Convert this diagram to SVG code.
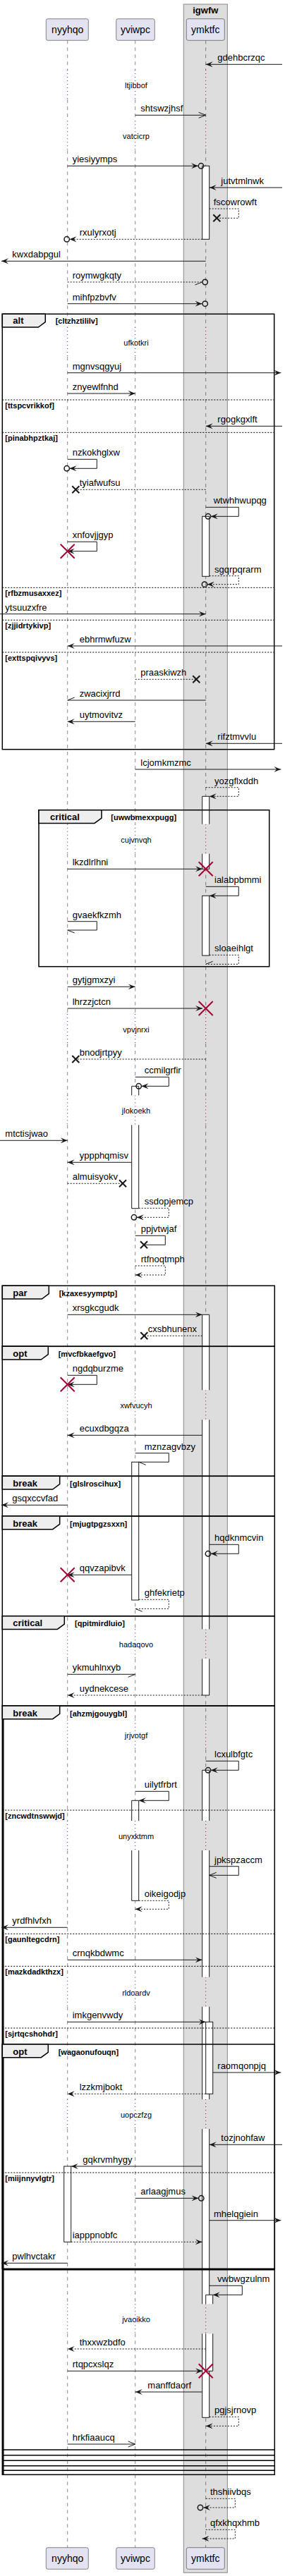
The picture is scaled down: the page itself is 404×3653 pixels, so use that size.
<svg xmlns="http://www.w3.org/2000/svg" width="404" height="3653" viewBox="0 0 404 3653">
<style>
.t{font-family:"Liberation Sans",Arial,sans-serif;font-size:13px;fill:#000}
.p{font-size:14px;text-anchor:middle}
.d{font-size:11px;text-anchor:middle}
.g{font-size:11px;font-weight:bold}
.h{font-size:13px;font-weight:bold}
.m{stroke:#181818;stroke-width:1;fill:none}
.dash{stroke-dasharray:2,2}
.life{stroke:#181818;stroke-width:0.5;stroke-dasharray:5,5;fill:none}
.dly{stroke:#A80036;stroke-width:1;stroke-dasharray:1,4;fill:none}
.actf{fill:#fff;stroke:none}
.acts{fill:none;stroke:#181818;stroke-width:1}
.act{fill:#fff;stroke:#181818;stroke-width:1}
.fr{fill:none;stroke:#000;stroke-width:1.5}
.tab{fill:#EEEEEE;stroke:#000;stroke-width:1.5}
.sep{stroke:#000;stroke-width:1;stroke-dasharray:2,2}
.kill{stroke:#A80036;stroke-width:2}
.lost{stroke:#181818;stroke-width:2}
.circ{fill:none;stroke:#181818;stroke-width:1.5}
.part{fill:#E2E2F0;stroke:#181818;stroke-width:0.5}
</style>
<defs>
<marker id="af" viewBox="0 0 10 8" refX="10" refY="4" markerWidth="10" markerHeight="8" markerUnits="userSpaceOnUse" orient="auto"><path d="M0,0 L10,4 L0,8 L4,4 Z" fill="#181818"/></marker>
<marker id="ao" viewBox="0 0 10 8" refX="10" refY="4" markerWidth="10" markerHeight="8" markerUnits="userSpaceOnUse" orient="auto" overflow="visible"><path d="M0,0 L10,4 L0,8" fill="none" stroke="#181818" stroke-width="1"/></marker>
<marker id="ha" viewBox="0 0 10 8" refX="10" refY="4" markerWidth="10" markerHeight="8" markerUnits="userSpaceOnUse" orient="auto" overflow="visible"><path d="M0,0 L10,4" fill="none" stroke="#181818" stroke-width="1"/></marker>
<marker id="hb" viewBox="0 0 10 8" refX="10" refY="4" markerWidth="10" markerHeight="8" markerUnits="userSpaceOnUse" orient="auto" overflow="visible"><path d="M0,8 L10,4" fill="none" stroke="#181818" stroke-width="1"/></marker>
</defs>

<g id="box-igwfw">
<rect x="260.3" y="6" width="62" height="3642.3" fill="#DDDDDD" stroke="#888888" stroke-width="1"/>
<text class="t h" x="291.3" y="19" text-anchor="middle">igwfw</text>
</g>

<g id="lifelines">
<path class="life" d="M95.7,57.3V99M95.7,141V171.3M95.7,213.3V464M95.7,506V1168.7M95.7,1210.7V1438M95.7,1480V1553.3M95.7,1595.3V1971.3M95.7,2013.3V2310.3M95.7,2352.3V2438.7M95.7,2480.7V2582M95.7,2624V2803.7M95.7,2845.7V2977M95.7,3019V3267.3M95.7,3309.3V3612.7"/>
<path class="life" d="M191.7,57.3V99M191.7,141V171.3M191.7,213.3V464M191.7,506V1168.7M191.7,1210.7V1438M191.7,1480V1553.3M191.7,1595.3V1971.3M191.7,2013.3V2310.3M191.7,2352.3V2438.7M191.7,2480.7V2582M191.7,2624V2803.7M191.7,2845.7V2977M191.7,3019V3267.3M191.7,3309.3V3612.7"/>
<path class="life" d="M291.7,57.3V99M291.7,141V171.3M291.7,213.3V464M291.7,506V1168.7M291.7,1210.7V1438M291.7,1480V1553.3M291.7,1595.3V1971.3M291.7,2013.3V2310.3M291.7,2352.3V2438.7M291.7,2480.7V2582M291.7,2624V2803.7M291.7,2845.7V2977M291.7,3019V3267.3M291.7,3309.3V3612.7"/>
</g>

<g id="delays">
<path class="dly" d="M95.7,99V141M191.7,99V141M291.7,99V141M95.7,171.3V213.3M191.7,171.3V213.3M291.7,171.3V213.3M95.7,464V506M191.7,464V506M291.7,464V506M95.7,1168.7V1210.7M191.7,1168.7V1210.7M291.7,1168.7V1210.7M95.7,1438V1480M191.7,1438V1480M291.7,1438V1480M95.7,1553.3V1595.3M191.7,1553.3V1595.3M291.7,1553.3V1595.3M95.7,1971.3V2013.3M191.7,1971.3V2013.3M291.7,1971.3V2013.3M95.7,2310.3V2352.3M191.7,2310.3V2352.3M291.7,2310.3V2352.3M95.7,2438.7V2480.7M191.7,2438.7V2480.7M291.7,2438.7V2480.7M95.7,2582V2624M191.7,2582V2624M291.7,2582V2624M95.7,2803.7V2845.7M191.7,2803.7V2845.7M291.7,2803.7V2845.7M95.7,2977V3019M191.7,2977V3019M291.7,2977V3019M95.7,3267.3V3309.3M191.7,3267.3V3309.3M291.7,3267.3V3309.3"/>
<text class="t d" x="193" y="125">ltjibbof</text>
<text class="t d" x="193" y="197.3">vatcicrp</text>
<text class="t d" x="193" y="490">ufkotkri</text>
<text class="t d" x="193" y="1194.7">cujvnvqh</text>
<text class="t d" x="193" y="1464">vpvjnrxi</text>
<text class="t d" x="193" y="1579.3">jlokoekh</text>
<text class="t d" x="193" y="1997.3">xwfvucyh</text>
<text class="t d" x="193" y="2336.3">hadaqovo</text>
<text class="t d" x="193" y="2464.7">jrjvotgf</text>
<text class="t d" x="193" y="2608">unyxktmm</text>
<text class="t d" x="193" y="2829.7">rldoardv</text>
<text class="t d" x="193" y="3003">uopczfzg</text>
<text class="t d" x="193" y="3293.3">jvaoikko</text>
</g>

<g id="participants">
<g id="p-nyyhqo"><rect class="part" x="65.3" y="26.7" width="60" height="30.6" rx="2.5"/><text class="t p" x="95.7" y="47.3">nyyhqo</text>
<rect class="part" x="65.3" y="3612.7" width="60" height="30.6" rx="2.5"/><text class="t p" x="95.7" y="3633.3">nyyhqo</text></g>
<g id="p-yviwpc"><rect class="part" x="164.7" y="26.7" width="54.6" height="30.6" rx="2.5"/><text class="t p" x="191.9" y="47.3">yviwpc</text>
<rect class="part" x="164.7" y="3612.7" width="54.6" height="30.6" rx="2.5"/><text class="t p" x="191.9" y="3633.3">yviwpc</text></g>
<g id="p-ymktfc"><rect class="part" x="264.3" y="26.7" width="54" height="30.6" rx="2.5"/><text class="t p" x="291.3" y="47.3">ymktfc</text>
<rect class="part" x="264.3" y="3612.7" width="54" height="30.6" rx="2.5"/><text class="t p" x="291.3" y="3633.3">ymktfc</text></g>
</g>

<g id="activations">
<rect class="act" x="286.7" y="235.3" width="10" height="104"/>
<rect class="act" x="286.7" y="732.3" width="10" height="85"/>
<rect class="actf" x="286.7" y="1129.3" width="10" height="39.4"/><path class="acts" d="M286.7,1168.7V1129.3H296.7V1168.7"/>
<rect class="actf" x="286.7" y="1210.7" width="10" height="21.6"/><path class="acts" d="M286.7,1210.7V1232.3H296.7V1210.7"/>
<rect class="act" x="286.7" y="1270.3" width="10" height="84.7"/>
<rect class="actf" x="286.7" y="1864.3" width="10" height="107"/><path class="acts" d="M286.7,1971.3V1864.3H296.7V1971.3"/>
<rect class="actf" x="286.7" y="2013.3" width="10" height="297"/><path class="acts" d="M286.7,2013.3V2310.3M296.7,2013.3V2310.3"/>
<rect class="actf" x="286.7" y="2352.3" width="10" height="51.7"/><path class="acts" d="M286.7,2352.3V2404H296.7V2352.3"/>
<rect class="actf" x="286.7" y="2510.3" width="10" height="71.7"/><path class="acts" d="M286.7,2582V2510.3H296.7V2582"/>
<rect class="actf" x="286.7" y="2624" width="10" height="179.7"/><path class="acts" d="M286.7,2624V2803.7M296.7,2624V2803.7"/>
<rect class="actf" x="286.7" y="2845.7" width="10" height="131.3"/><path class="acts" d="M286.7,2845.7V2977M296.7,2845.7V2977"/>
<rect class="actf" x="286.7" y="3019" width="10" height="248.3"/><path class="acts" d="M286.7,3019V3267.3M296.7,3019V3267.3"/>
<rect class="actf" x="286.7" y="3309.3" width="10" height="119"/><path class="acts" d="M286.7,3309.3V3428.3H296.7V3309.3"/>
<rect class="act" x="291.7" y="2867.3" width="10" height="102"/>
<rect class="actf" x="291.7" y="3254.3" width="10" height="13"/><path class="acts" d="M291.7,3267.3V3254.3H301.7V3267.3"/>
<rect class="actf" x="291.7" y="3309.3" width="10" height="53"/><path class="acts" d="M291.7,3309.3V3362.3H301.7V3309.3"/>
<rect class="actf" x="186.7" y="1540.3" width="10" height="13"/><path class="acts" d="M186.7,1553.3V1540.3H196.7V1553.3"/>
<rect class="actf" x="186.7" y="1595.3" width="10" height="118.4"/><path class="acts" d="M186.7,1595.3V1713.7H196.7V1595.3"/>
<rect class="act" x="186.7" y="2073.3" width="10" height="195.7"/>
<rect class="actf" x="186.7" y="2553.3" width="10" height="28.7"/><path class="acts" d="M186.7,2582V2553.3H196.7V2582"/>
<rect class="actf" x="186.7" y="2624" width="10" height="71.3"/><path class="acts" d="M186.7,2624V2695.3H196.7V2624"/>
<rect class="act" x="90.7" y="3072" width="10" height="107.3"/>
</g>

<g id="frames">
<g id="f-alt">
<rect class="fr" x="3.3" y="445.3" width="385.4" height="617.4"/>
<path class="tab" d="M3.3,445.3H64.3V456.7L54.3,464H3.3Z"/>
<text class="t h" x="18.3" y="459.3">alt</text>
<text class="t g" x="78.7" y="459.3">[cltzhztililv]</text>
<path class="sep" d="M3.3,567H388.7M3.3,613.3H388.7M3.3,833.3H388.7M3.3,879.3H388.7M3.3,925H388.7"/>
<text class="t g" x="7.3" y="578.7">[ttspcvrikkof]</text>
<text class="t g" x="7.3" y="625">[pinabhpztkaj]</text>
<text class="t g" x="7.3" y="845">[rfbzmusaxxez]</text>
<text class="t g" x="7.3" y="891">[zjjidrtykivp]</text>
<text class="t g" x="7.3" y="936.7">[exttspqivyvs]</text>
</g>
<g id="f-critical1">
<rect class="fr" x="55" y="1148.7" width="326.7" height="222"/>
<path class="tab" d="M55,1148.7H144V1160L134,1167.4H55Z"/>
<text class="t h" x="71" y="1163.3">critical</text>
<text class="t g" x="157.3" y="1163.3">[uwwbmexxpugg]</text>
</g>
<g id="f-par">
<rect class="fr" x="3.3" y="1823.3" width="386" height="86"/>
<path class="tab" d="M3.3,1823.3H69.3V1834.7L59.3,1842H3.3Z"/>
<text class="t h" x="18.3" y="1837.8">par</text>
<text class="t g" x="83.7" y="1837.8">[kzaxesyymptp]</text>
</g>
<g id="f-opt1">
<rect class="fr" x="3.3" y="1909.3" width="386" height="184"/>
<path class="tab" d="M3.3,1909.3H68.3V1920.7L58.3,1928H3.3Z"/>
<text class="t h" x="18.3" y="1923.8">opt</text>
<text class="t g" x="82.7" y="1923.8">[mvcfbkaefgvo]</text>
</g>
<g id="f-break1">
<rect class="fr" x="3.3" y="2093.3" width="386" height="56.7"/>
<path class="tab" d="M3.3,2093.3H84.7V2104.7L74.7,2112H3.3Z"/>
<text class="t h" x="18.3" y="2107.8">break</text>
<text class="t g" x="99" y="2107.8">[glslroscihux]</text>
</g>
<g id="f-break2">
<rect class="fr" x="3.3" y="2150" width="386" height="141.7"/>
<path class="tab" d="M3.3,2150H84.7V2161.4L74.7,2168.7H3.3Z"/>
<text class="t h" x="18.3" y="2164.5">break</text>
<text class="t g" x="99" y="2164.5">[mjugtpgzsxxn]</text>
</g>
<g id="f-critical2">
<rect class="fr" x="3.3" y="2291.7" width="386" height="127.3"/>
<path class="tab" d="M3.3,2291.7H91.3V2303.1L81.3,2310.4H3.3Z"/>
<text class="t h" x="18.3" y="2306.2">critical</text>
<text class="t g" x="106" y="2306.2">[qpitmirdluio]</text>
</g>
<g id="f-break3">
<rect class="fr" x="3.3" y="2419" width="386" height="1090.3"/>
<path class="fr" d="M4.8,2419V3509.3"/>
<path class="tab" d="M3.3,2419H84.7V2430.4L74.7,2437.7H3.3Z"/>
<text class="t h" x="18.3" y="2433.5">break</text>
<text class="t g" x="99" y="2433.5">[ahzmjgouygbl]</text>
<path class="sep" d="M3.3,2567H389.3M3.3,2742.3H389.3M3.3,2788.3H389.3M3.3,2876H389.3"/>
<text class="t g" x="7.3" y="2578.7">[zncwdtnswwjd]</text>
<text class="t g" x="7.3" y="2754">[gaunltegcdrn]</text>
<text class="t g" x="7.3" y="2800">[mazkdadkthzx]</text>
<text class="t g" x="7.3" y="2887.7">[sjrtqcshohdr]</text>
<path class="fr" d="M3.3,3474H389.3M3.3,3481.7H389.3M3.3,3489.3H389.3M3.3,3496.7H389.3M3.3,3503.3H389.3"/>
</g>
<g id="f-opt2">
<rect class="fr" x="3.3" y="2899" width="386" height="318.3"/>
<path class="fr" d="M3.3,3218.8H389.3"/>
<path class="tab" d="M3.3,2899H68.3V2910.4L58.3,2917.7H3.3Z"/>
<text class="t h" x="18.3" y="2913.5">opt</text>
<text class="t g" x="82.7" y="2913.5">[wagaonufouqn]</text>
<path class="sep" d="M3.3,3081H389.3"/>
<text class="t g" x="7.3" y="3092.7">[miijnnyvlgtr]</text>
</g>
</g>

<g id="connectors">
<path class="m" d="M400,91.3H291.7" marker-end="url(#af)"/>
<path class="m" d="M191.7,163.3H291.7" marker-end="url(#ao)"/>
<path class="m" d="M95.7,235.3H281" marker-end="url(#af)"/><circle class="circ" cx="285" cy="235.3" r="3.7"/>
<path class="m" d="M400,266H296.7" marker-end="url(#af)"/>
<path class="m dash" d="M296.7,296H338.3V309.3H307.3"/><path class="lost" d="M302.3,304.3L312.3,314.3M302.3,314.3L312.3,304.3"/>
<path class="m dash" d="M286.7,339.3H98.5" marker-end="url(#af)"/><circle class="circ" cx="94.7" cy="339.3" r="3.7"/>
<path class="m" d="M291.7,370.3H2" marker-end="url(#af)"/>
<path class="m dash" d="M95.7,400H286.5" marker-end="url(#hb)"/><circle class="circ" cx="290.7" cy="400" r="3.7"/>
<path class="m" d="M95.7,430.7H286.5" marker-end="url(#af)"/><circle class="circ" cx="290.7" cy="430.7" r="3.7"/>
<path class="m" d="M95.7,528.7H398.3" marker-end="url(#af)"/>
<path class="m" d="M95.7,558H191.7" marker-end="url(#af)"/>
<path class="m" d="M400,604.3H291.7" marker-end="url(#af)"/>
<path class="m" d="M95.7,651.3H137.3V664.3H98.5" marker-end="url(#af)"/><circle class="circ" cx="94.7" cy="664.3" r="3.7"/>
<path class="m dash" d="M291.7,694.3H107.3"/><path class="lost" d="M102.3,689.3L112.3,699.3M102.3,699.3L112.3,689.3"/>
<path class="m" d="M291.7,719.3H338.3V732.3H298.8" marker-end="url(#af)"/><circle class="circ" cx="295" cy="732.3" r="3.7"/>
<path class="m" d="M95.7,768.3H137.3V781.7H95.7" marker-end="url(#af)"/><path class="kill" d="M85.7,771.7L105.7,791.7M85.7,791.7L105.7,771.7"/>
<path class="m dash" d="M296.7,816.7H338.3V828.7H293.8" marker-end="url(#af)"/><circle class="circ" cx="290" cy="828.7" r="3.7"/>
<path class="m" d="M0,870.7H291.7" marker-end="url(#af)"/>
<path class="m" d="M400,916H95.7" marker-end="url(#af)"/>
<path class="m dash" d="M191.7,963.3H278.3"/><path class="lost" d="M273.3,958.3L283.3,968.3M273.3,968.3L283.3,958.3"/>
<path class="m" d="M291.7,993H95.7" marker-end="url(#hb)"/>
<path class="m" d="M191.7,1023.3H95.7" marker-end="url(#af)"/>
<path class="m" d="M400,1054.3H291.7" marker-end="url(#af)"/>
<path class="m" d="M191.7,1091H398.3" marker-end="url(#af)"/>
<path class="m dash" d="M291.7,1116.7H338.3V1129.3H296.7" marker-end="url(#af)"/>
<path class="m" d="M95.7,1232.3H287" marker-end="url(#af)"/><path class="kill" d="M281.7,1222.3L301.7,1242.3M281.7,1242.3L301.7,1222.3"/>
<path class="m" d="M291.7,1257.3H338.3V1270.3H296.7" marker-end="url(#af)"/>
<path class="m" d="M95.7,1306.7H137.3V1319H95.7" marker-end="url(#ha)"/>
<path class="m dash" d="M296.7,1354.3H338.3V1367.3H291.7" marker-end="url(#hb)"/>
<path class="m" d="M95.7,1399.3H191.7" marker-end="url(#af)"/>
<path class="m" d="M95.7,1430H287" marker-end="url(#af)"/><path class="kill" d="M281.7,1420L301.7,1440M281.7,1440L301.7,1420"/>
<path class="m dash" d="M291.7,1502H107.3"/><path class="lost" d="M102.3,1497L112.3,1507M102.3,1507L112.3,1497"/>
<path class="m" d="M191.7,1527.3H239.3V1540.3H200.5" marker-end="url(#af)"/><circle class="circ" cx="196.7" cy="1540.3" r="3.7"/>
<path class="m" d="M0,1617.3H95.7" marker-end="url(#af)"/>
<path class="m" d="M186.7,1648.3H95.7" marker-end="url(#af)"/>
<path class="m dash" d="M95.7,1678.3H174"/><path class="lost" d="M169,1673.3L179,1683.3M169,1683.3L179,1673.3"/>
<path class="m dash" d="M196.7,1713.3H239.3V1726.3H193.8" marker-end="url(#af)"/><circle class="circ" cx="190" cy="1726.3" r="3.7"/>
<path class="m" d="M191.7,1752.3H234.3V1765.3H204"/><path class="lost" d="M199,1760.3L209,1770.3M199,1770.3L209,1760.3"/>
<path class="m dash" d="M191.7,1795H234.3V1808H191.7" marker-end="url(#af)"/>
<path class="m" d="M95.7,1864.3H286.7" marker-end="url(#af)"/>
<path class="m dash" d="M286.7,1894.3H204.3"/><path class="lost" d="M199.3,1889.3L209.3,1899.3M199.3,1899.3L209.3,1889.3"/>
<path class="m" d="M95.7,1950.3H137.3V1963.3H95.7" marker-end="url(#af)"/><path class="kill" d="M85.7,1953.3L105.7,1973.3M85.7,1973.3L105.7,1953.3"/>
<path class="m" d="M286.7,2035.3H95.7" marker-end="url(#af)"/>
<path class="m" d="M191.7,2060.7H239.3V2073.3H196.7" marker-end="url(#ha)"/>
<path class="m" d="M95.7,2134.3H2" marker-end="url(#af)"/>
<path class="m" d="M296.7,2190.3H338.3V2203.3H298.8" marker-end="url(#af)"/><circle class="circ" cx="295" cy="2203.3" r="3.7"/>
<path class="m" d="M186.7,2233.3H95.7" marker-end="url(#af)"/><path class="kill" d="M85.7,2223.3L105.7,2243.3M85.7,2243.3L105.7,2223.3"/>
<path class="m dash" d="M196.7,2268.3H239.3V2281.3H191.7" marker-end="url(#ha)"/>
<path class="m" d="M95.7,2374.3H191.7" marker-end="url(#hb)"/>
<path class="m dash" d="M286.7,2404H95.7" marker-end="url(#af)"/>
<path class="m" d="M291.7,2497.3H338.3V2510.3H298.8" marker-end="url(#af)"/><circle class="circ" cx="295" cy="2510.3" r="3.7"/>
<path class="m" d="M191.7,2540.3H239.3V2553.3H196.7" marker-end="url(#af)"/>
<path class="m" d="M296.7,2646.7H338.3V2659.3H296.7" marker-end="url(#ao)"/>
<path class="m dash" d="M196.7,2695.3H239.3V2707.3H191.7" marker-end="url(#af)"/>
<path class="m" d="M95.7,2733.3H2" marker-end="url(#af)"/>
<path class="m" d="M95.7,2779.3H286.7" marker-end="url(#af)"/>
<path class="m" d="M95.7,2867.3H291.7" marker-end="url(#af)"/>
<path class="m" d="M301.7,2939H398.3" marker-end="url(#af)"/>
<path class="m dash" d="M291.7,2969.3H95.7" marker-end="url(#af)"/>
<path class="m" d="M400,3041.3H296.7" marker-end="url(#af)"/>
<path class="m" d="M286.7,3072H100.7" marker-end="url(#af)"/>
<path class="m" d="M191.7,3117.3H281.5" marker-end="url(#af)"/><circle class="circ" cx="285.3" cy="3117.3" r="3.7"/>
<path class="m" d="M296.7,3148.7H398.3" marker-end="url(#af)"/>
<path class="m dash" d="M100.7,3179.3H286.7" marker-end="url(#af)"/>
<path class="m" d="M95.7,3209.3H2" marker-end="url(#af)"/>
<path class="m" d="M296.7,3241.3H343.3V3254.3H301.7" marker-end="url(#af)"/>
<path class="m dash" d="M291.7,3331H95.7" marker-end="url(#af)"/>
<path class="m" d="M95.7,3362.3H287" marker-end="url(#af)"/><path class="kill" d="M281.7,3352.3L301.7,3372.3M281.7,3372.3L301.7,3352.3"/>
<path class="m" d="M286.7,3392H191.7" marker-end="url(#af)"/>
<path class="m dash" d="M296.7,3427.3H338.3V3440.3H291.7" marker-end="url(#af)"/>
<path class="m" d="M95.7,3466H191.7" marker-end="url(#ao)"/>
<path class="m dash" d="M291.7,3543.3H333.3V3556H288" marker-end="url(#af)"/><circle class="circ" cx="284" cy="3556" r="3.7"/>
<path class="m dash" d="M291.7,3587.3H333.3V3600H286.5" marker-end="url(#af)"/>
</g>

<g id="labels">
<text class="t" x="308.3" y="86.3">gdehbcrzqc</text>
<text class="t" x="199.3" y="158.3">shtswzjhsf</text>
<text class="t" x="102.7" y="230.3">yiesiyymps</text>
<text class="t" x="313.3" y="261">jutvtmlnwk</text>
<text class="t" x="302.7" y="291">fscowrowft</text>
<text class="t" x="112.7" y="334.3">rxulyrxotj</text>
<text class="t" x="17.3" y="365.3">kwxdabpgul</text>
<text class="t" x="102.7" y="395">roymwgkqty</text>
<text class="t" x="102.7" y="425.7">mihfpzbvfv</text>
<text class="t" x="102.7" y="523.7">mgnvsqgyuj</text>
<text class="t" x="102.7" y="553">znyewlfnhd</text>
<text class="t" x="308.3" y="599.3">rgogkgxlft</text>
<text class="t" x="102.7" y="646.3">nzkokhglxw</text>
<text class="t" x="112.7" y="689.3">tyiafwufsu</text>
<text class="t" x="302.7" y="714.3">wtwhhwupqg</text>
<text class="t" x="102.7" y="763.3">xnfovjjgyp</text>
<text class="t" x="304" y="811.7">sgqrpqrarm</text>
<text class="t" x="7.3" y="865.7">ytsuuzxfre</text>
<text class="t" x="112.7" y="911">ebhrmwfuzw</text>
<text class="t" x="199.3" y="958.3">praaskiwzh</text>
<text class="t" x="112.7" y="988">zwacixjrrd</text>
<text class="t" x="112.7" y="1018.3">uytmovitvz</text>
<text class="t" x="308.3" y="1049.3">rifztmvvlu</text>
<text class="t" x="199.3" y="1086">lcjomkmzmc</text>
<text class="t" x="304" y="1111.7">yozgflxddh</text>
<text class="t" x="102.7" y="1227.3">lkzdlrlhni</text>
<text class="t" x="304" y="1252.3">ialabpbmmi</text>
<text class="t" x="102.7" y="1301.7">gvaekfkzmh</text>
<text class="t" x="304" y="1349.3">sloaeihlgt</text>
<text class="t" x="102.7" y="1394.3">gytjgmxzyi</text>
<text class="t" x="102.7" y="1425">lhrzzjctcn</text>
<text class="t" x="112.7" y="1497">bnodjrtpyy</text>
<text class="t" x="204.7" y="1522.3">ccmilgrfir</text>
<text class="t" x="7.3" y="1612.3">mtctisjwao</text>
<text class="t" x="112.7" y="1643.3">yppphqmisv</text>
<text class="t" x="102.7" y="1673.3">almuisyokv</text>
<text class="t" x="204.7" y="1708.3">ssdopjemcp</text>
<text class="t" x="199.7" y="1747.3">ppjvtwjaf</text>
<text class="t" x="199.7" y="1790">rtfnoqtmph</text>
<text class="t" x="102.7" y="1859.3">xrsgkcgudk</text>
<text class="t" x="209.7" y="1889.3">cxsbhunenx</text>
<text class="t" x="102.7" y="1945.3">ngdqburzme</text>
<text class="t" x="112.7" y="2030.3">ecuxdbgqza</text>
<text class="t" x="204.7" y="2055.7">mznzagvbzy</text>
<text class="t" x="17.3" y="2129.3">gsqxccvfad</text>
<text class="t" x="304" y="2185.3">hqdknmcvin</text>
<text class="t" x="112.7" y="2228.3">qqvzapibvk</text>
<text class="t" x="204.7" y="2263.3">ghfekrietp</text>
<text class="t" x="102.7" y="2369.3">ykmuhlnxyb</text>
<text class="t" x="112.7" y="2399">uydnekcese</text>
<text class="t" x="304" y="2492.3">lcxulbfgtc</text>
<text class="t" x="204.7" y="2535.3">uilytfrbrt</text>
<text class="t" x="304" y="2641.7">jpkspzaccm</text>
<text class="t" x="204.7" y="2690.3">oikeigodjp</text>
<text class="t" x="17.3" y="2728.3">yrdfhlvfxh</text>
<text class="t" x="102.7" y="2774.3">crnqkbdwmc</text>
<text class="t" x="102.7" y="2862.3">imkgenvwdy</text>
<text class="t" x="308.3" y="2934">raomqonpjq</text>
<text class="t" x="112.7" y="2964.3">lzzkmjbokt</text>
<text class="t" x="313.3" y="3036.3">tozjnohfaw</text>
<text class="t" x="117.3" y="3067">gqkrvmhygy</text>
<text class="t" x="199.3" y="3112.3">arlaagjmus</text>
<text class="t" x="303" y="3143.7">mhelqgiein</text>
<text class="t" x="102.7" y="3174.3">iapppnobfc</text>
<text class="t" x="17.3" y="3204.3">pwlhvctakr</text>
<text class="t" x="308" y="3236.3">vwbwgzulnm</text>
<text class="t" x="112.7" y="3326">thxxwzbdfo</text>
<text class="t" x="102.7" y="3357.3">rtqpcxslqz</text>
<text class="t" x="209.3" y="3387">manffdaorf</text>
<text class="t" x="304" y="3422.3">pgjsjrnovp</text>
<text class="t" x="102.7" y="3461">hrkfiaaucq</text>
<text class="t" x="298" y="3538.3">thshiivbqs</text>
<text class="t" x="298" y="3582.3">qfxkhqxhmb</text>
</g>
</svg>
